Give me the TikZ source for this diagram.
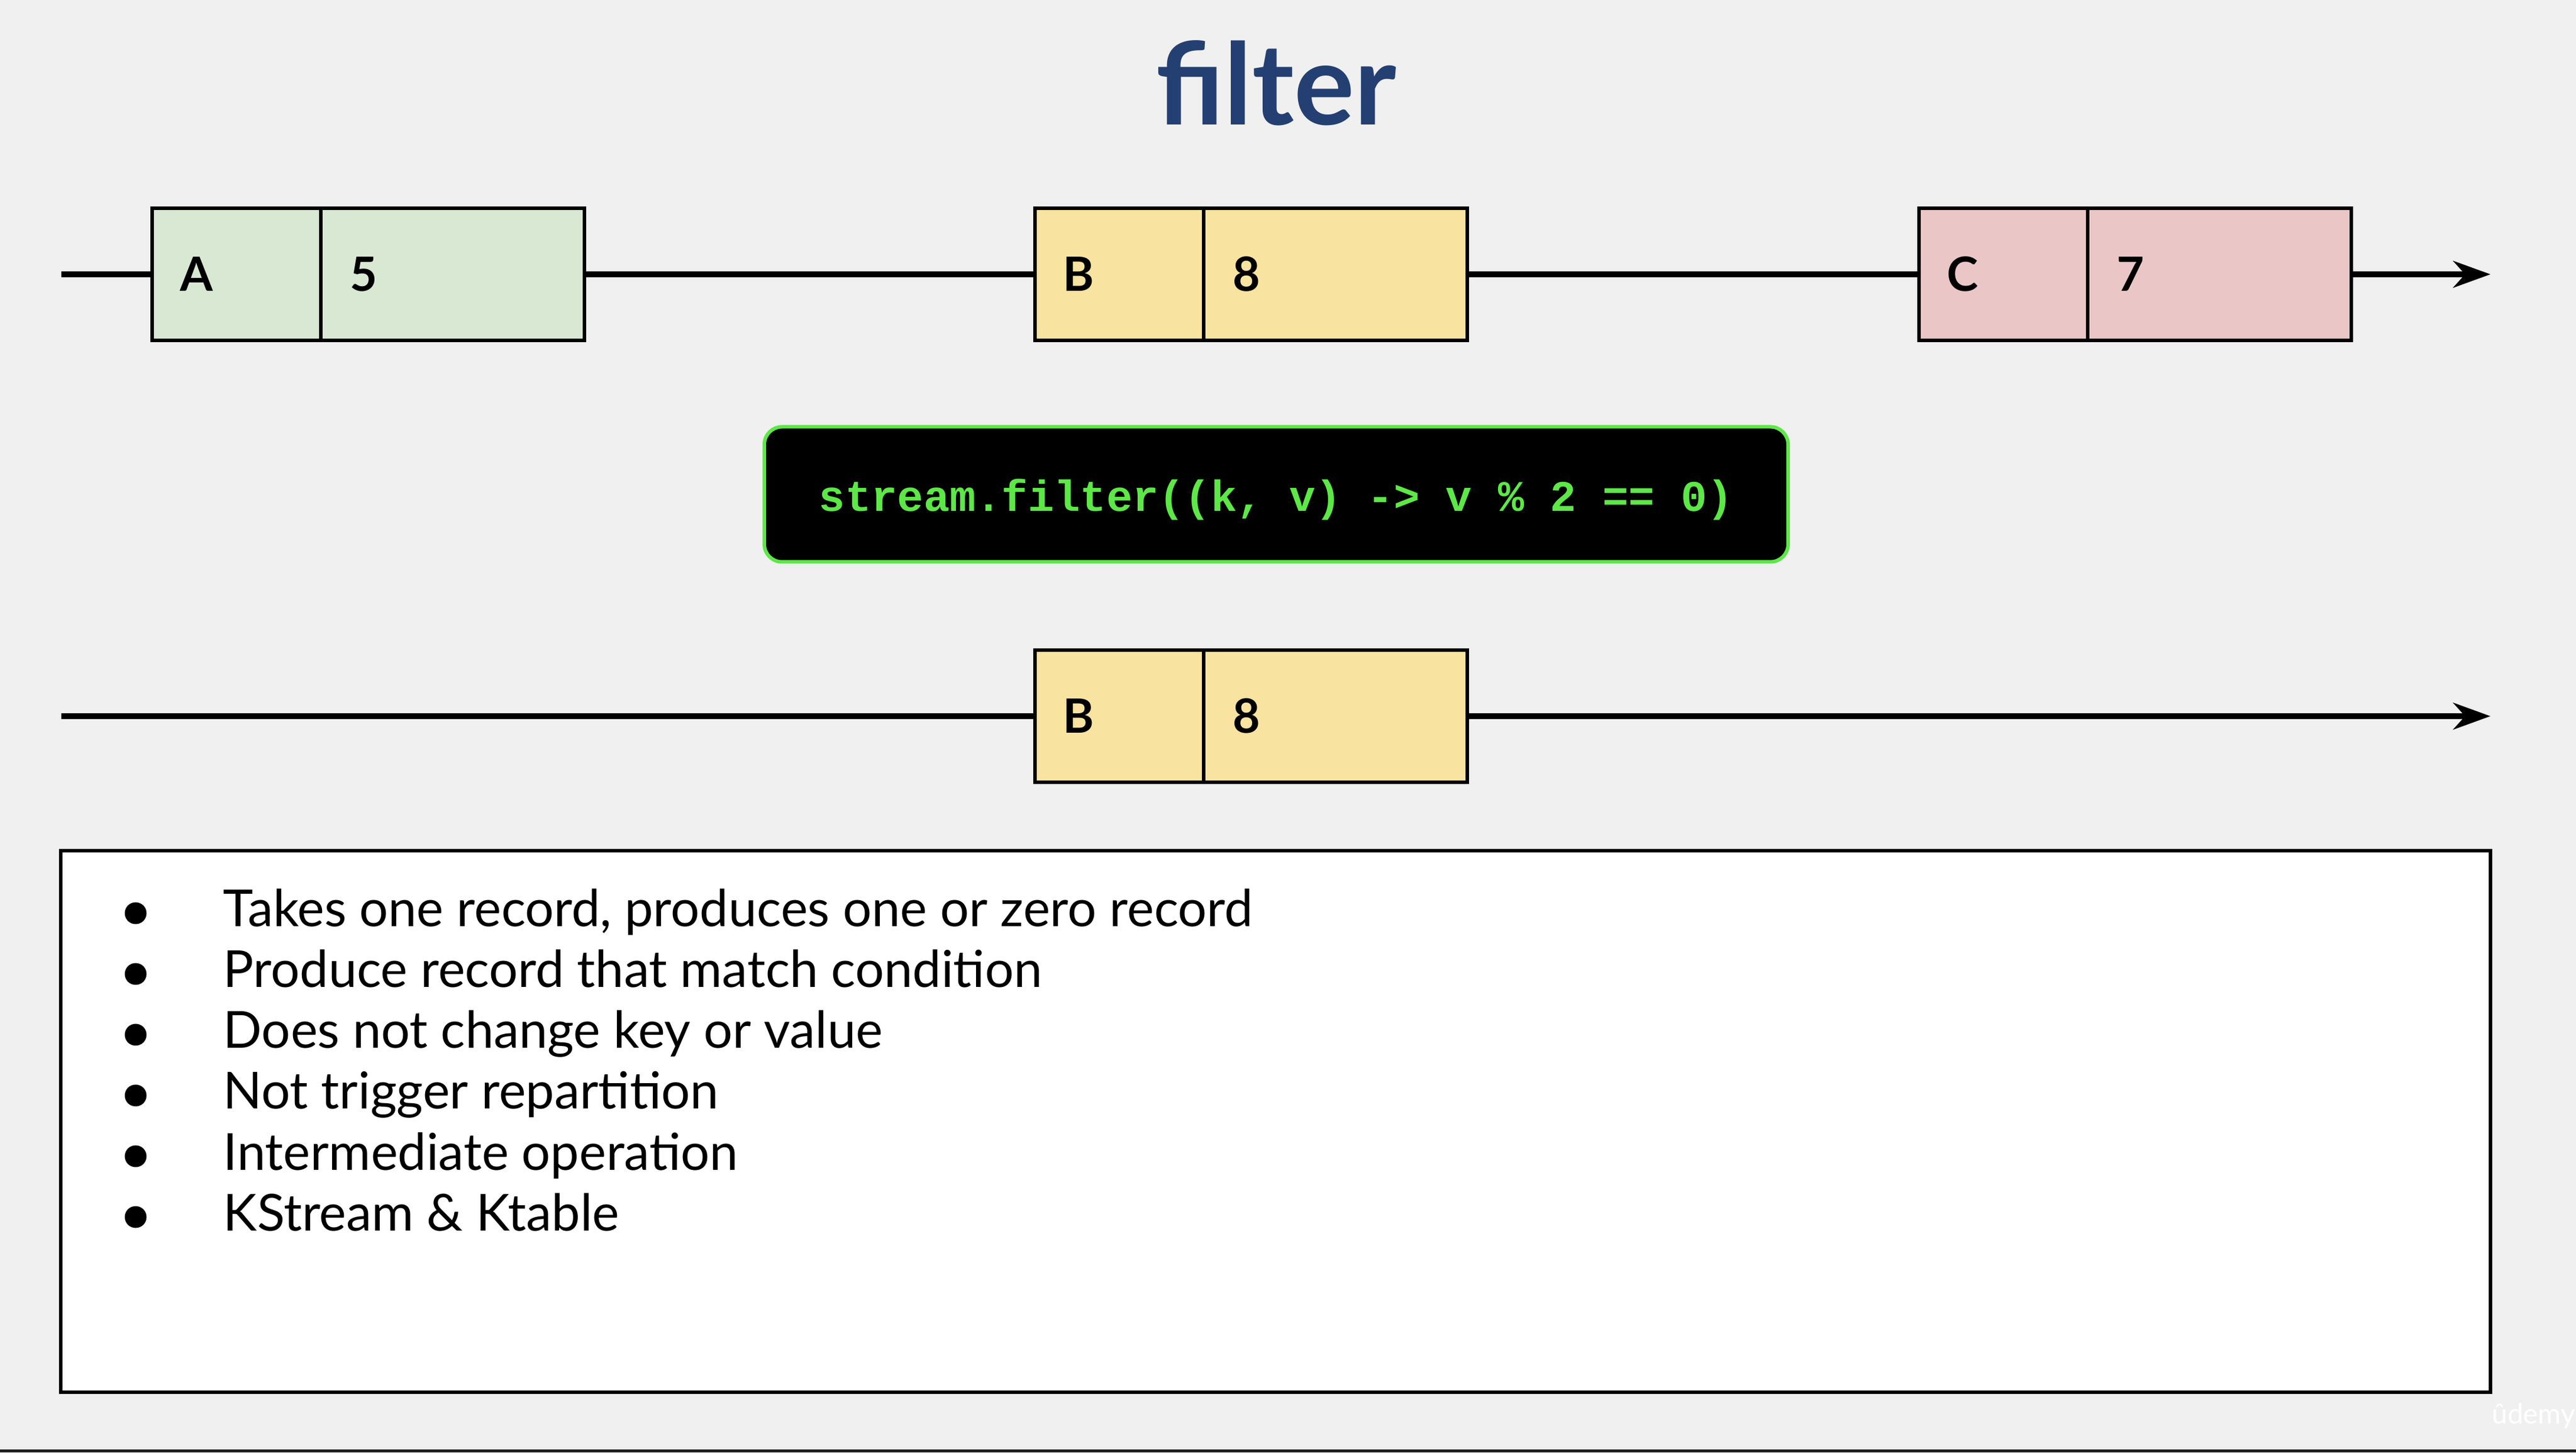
\documentclass[tikz,border=0pt]{standalone}
\usepackage{fontspec}
\setmainfont{Lato}
\newfontfamily\codefont{Liberation Mono}
\usetikzlibrary{arrows.meta, positioning}
\definecolor{bg}{HTML}{F0F0F0}
\definecolor{titleblue}{HTML}{243F72}
\definecolor{keygreen}{HTML}{D9E8D2}
\definecolor{keyyellow}{HTML}{F8E4A0}
\definecolor{keyred}{HTML}{EAC6C6}
\definecolor{codegreen}{HTML}{5DE847}
\begin{document}
\begin{tikzpicture}[
    key/.style = {draw, line width=1.5pt, outer sep=0, minimum height=2.24cm, text width=1.92cm,
        inner xsep=0.47cm, align=left, anchor=west, font=\fontsize{22.8}{26}\selectfont\bfseries},
    value/.style = {key, text width=3.49cm, inner xsep=0.49cm},
    stream/.style = {line width=3pt},
    arrowed/.style = {stream, -{Stealth[length=0.63cm, width=0.45cm, inset=0.2cm]}},
    item/.style = {anchor=base west, inner sep=0, font=\fontsize{24.6}{28}\selectfont},
    dot/.style = {circle, fill, inner sep=0, minimum size=0.37cm}
]
    \fill [bg] (0, 0) rectangle (43.68, 24.62);
    \useasboundingbox (0, 0) rectangle (43.68, 24.62);
    \fill [black!88] (0, 0) rectangle (43.68, 0.05);

    \node [anchor=base, text=titleblue, font=\fontsize{54.6}{60}\selectfont\bfseries] (title) at (21.64, 22.50) {filter};

    % input stream
    \coordinate (in start) at (1.04, 19.97);
    \node [key, fill=keygreen] (ka) at (2.58, 19.97) {A};
    \node [value, fill=keygreen, right=0pt of ka] (va) {5};
    \node [key, fill=keyyellow] (kb) at (17.55, 19.97) {B};
    \node [value, fill=keyyellow, right=0pt of kb] (vb) {8};
    \node [key, fill=keyred] (kc) at (32.54, 19.97) {C};
    \node [value, fill=keyred, right=0pt of kc] (vc) {7};
    \coordinate (in end) at (42.23, 19.97);
    \draw [stream] (in start) -- (ka);
    \draw [stream] (va) -- (kb);
    \draw [stream] (vb) -- (kc);
    \draw [arrowed] (vc) -- (in end);

    \node [draw=codegreen, fill=black, line width=0.06cm, rounded corners=0.3cm, minimum width=17.36cm,
        minimum height=2.29cm, text height=0.58cm, text depth=0cm, text=codegreen,
        font=\codefont\bfseries\fontsize{21}{24}\selectfont]
        (code) at (21.64, 16.24) {stream.filter((k, v) -> v \% 2 == 0)};

    % output stream
    \coordinate (out start) at (1.04, 12.48);
    \node [key, fill=keyyellow] (kout) at (17.55, 12.48) {B};
    \node [value, fill=keyyellow, right=0pt of kout] (vout) {8};
    \coordinate (out end) at (42.23, 12.48);
    \draw [stream] (out start) -- (kout);
    \draw [arrowed] (vout) -- (out end);

    \node [draw, fill=white, line width=1.7pt, outer sep=0, anchor=north west, minimum width=41.20cm,
        minimum height=9.18cm] (notes) at (1.03, 10.20) {};
    \foreach \txt [count=\i from 0] in {{Takes one record, produces one or zero record},
        Produce record that match condition, Does not change key or value, Not trigger repartition,
        Intermediate operation, KStream \& Ktable} {
        \node [item] (item\i) at (3.78, 8.91 - 1.03*\i) {\txt};
        \node [dot] (dot\i) at (2.30, 9.14 - 1.03*\i) {};
    }

    \node [anchor=base west, inner sep=0, text=white, font=\fontsize{13.5}{15}\selectfont] (logo) at (42.25, 0.49) {ûdemy};
\end{tikzpicture}
\end{document}
